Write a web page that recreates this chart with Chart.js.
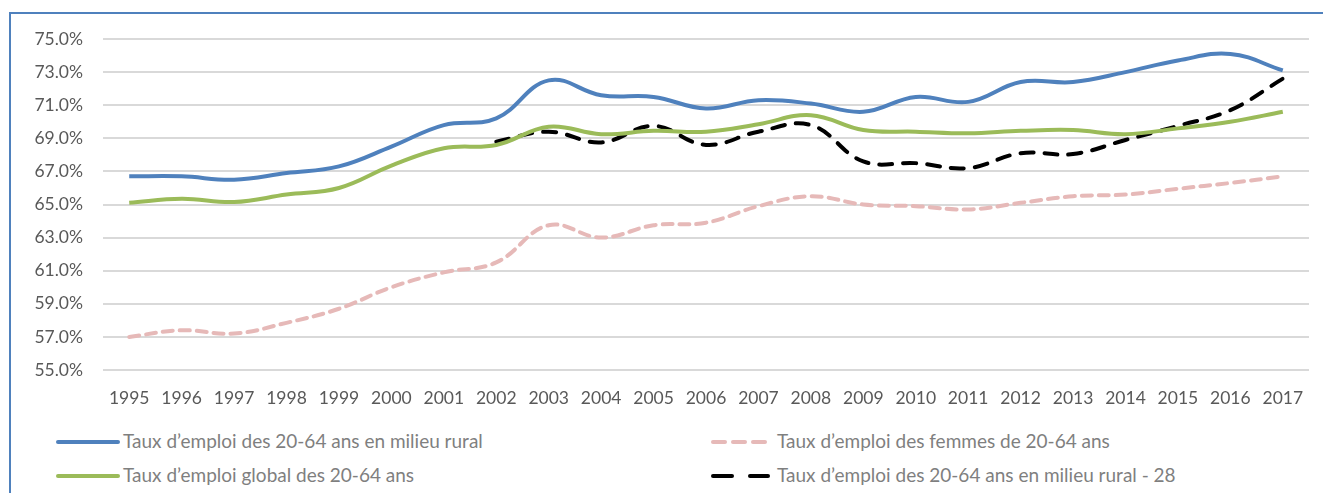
<!DOCTYPE html>
<html>
<head>
<meta charset="utf-8">
<script src="https://cdn.jsdelivr.net/npm/chart.js@4/dist/chart.umd.min.js"></script>
<style>
  html, body { margin: 0; padding: 0; background: #fff; }
  body { width: 1323px; height: 493px; position: relative; overflow: hidden; font-family: Lato, sans-serif; }
  .frame { position: absolute; left: 9px; top: 12px; width: 1400px; height: 600px; border-left: 2px solid #4f81bd; border-top: 2px solid #4f81bd; }
  .plot { position: absolute; left: 0; top: 0; width: 1323px; height: 420px; }
  .leg { position: absolute; font-size: 19px; color: #7f7f7f; white-space: nowrap; line-height: 20px; }
  .leg .sw { position: absolute; top: 9px; height: 4px; border-radius: 2px; }
</style>
</head>
<body>
<div class="frame"></div>
<div class="plot"><canvas id="employmentChart"></canvas></div>

<div class="leg" style="left:123px; top:431px;"><span class="sw" style="left:-67px; width:64px; background:#4f81bd;"></span>Taux d’emploi des 20-64 ans en milieu rural</div>
<div class="leg" style="left:123px; top:465px;"><span class="sw" style="left:-67px; width:64px; background:#9bbb59;"></span>Taux d’emploi global des 20-64 ans</div>
<div class="leg" style="left:777px; top:431px;">
  <span class="sw" style="left:-66px; width:16px; background:#e6b9b8;"></span>
  <span class="sw" style="left:-46px; width:16px; background:#e6b9b8;"></span>
  <span class="sw" style="left:-26px; width:16px; background:#e6b9b8;"></span>Taux d’emploi des femmes de 20-64 ans</div>
<div class="leg" style="left:777px; top:465px;">
  <span class="sw" style="left:-66px; width:23px; background:#000;"></span>
  <span class="sw" style="left:-29px; width:22px; background:#000;"></span>Taux d’emploi des 20-64 ans en milieu rural - 28</div>

<script>
// Taux d'emploi 1995-2017 (en %)
const years = ['1995', '1996', '1997', '1998', '1999', '2000', '2001', '2002', '2003', '2004', '2005', '2006',
  '2007', '2008', '2009', '2010', '2011', '2012', '2013', '2014', '2015', '2016', '2017'];

const ruralRate = [66.7, 66.7, 66.5, 66.9, 67.3, 68.5, 69.8, 70.2, 72.5, 71.6, 71.5, 70.8,
  71.3, 71.1, 70.6, 71.5, 71.2, 72.4, 72.4, 73.0, 73.7, 74.1, 73.1];

const globalRate = [65.1, 65.35, 65.15, 65.6, 66.0, 67.35, 68.4, 68.6, 69.7, 69.25, 69.45, 69.4,
  69.85, 70.4, 69.5, 69.4, 69.3, 69.45, 69.5, 69.25, 69.6, 70.0, 70.6];

const womenRate = [57.0, 57.4, 57.2, 57.85, 58.7, 60.0, 60.9, 61.5, 63.75, 63.0, 63.75, 63.9,
  64.9, 65.5, 65.0, 64.9, 64.7, 65.1, 65.5, 65.6, 65.95, 66.3, 66.7];

// série UE-28, démarre en 2002
const rural28Rate = [null, null, null, null, null, null, null, 68.8, 69.4, 68.75, 69.75, 68.6,
  69.4, 69.8, 67.6, 67.5, 67.2, 68.1, 68.05, 68.9, 69.75, 70.7, 72.6];

const yTicks = [55, 57, 59, 61, 63, 65, 67, 69, 71, 73, 75];

const TICK_FONT = { family: 'Lato', size: 17.5 };
const TICK_COLOR = '#595959';

const ctx = document.getElementById('employmentChart').getContext('2d');

new Chart(ctx, {
  type: 'line',
  data: {
    labels: years,
    datasets: [
      {
        label: 'Taux d’emploi des femmes de 20-64 ans',
        data: womenRate,
        borderColor: '#e6b9b8',
        borderWidth: 4,
        borderDash: [10, 7],
        borderCapStyle: 'round',
        tension: 0.4
      },
      {
        label: 'Taux d’emploi global des 20-64 ans',
        data: globalRate,
        borderColor: '#9bbb59',
        borderWidth: 4,
        tension: 0.4
      },
      {
        label: 'Taux d’emploi des 20-64 ans en milieu rural - 28',
        data: rural28Rate,
        borderColor: '#000000',
        borderWidth: 4,
        borderDash: [13, 11],
        borderCapStyle: 'round',
        tension: 0.4
      },
      {
        label: 'Taux d’emploi des 20-64 ans en milieu rural',
        data: ruralRate,
        borderColor: '#4f81bd',
        borderWidth: 4,
        tension: 0.4
      }
    ]
  },
  options: {
    responsive: true,
    maintainAspectRatio: false,
    animation: false,
    layout: { padding: { top: 39, right: 14, left: 0, bottom: 0 } },
    elements: { point: { radius: 0 } },
    plugins: {
      legend: { display: false },
      tooltip: { enabled: false }
    },
    scales: {
      x: {
        offset: true,
        afterFit: (scale) => { scale.height = 50; },
        grid: { display: false, drawTicks: false },
        border: { display: false },
        ticks: { color: TICK_COLOR, font: TICK_FONT, padding: 18, maxRotation: 0, autoSkip: false }
      },
      y: {
        min: 55,
        max: 75,
        afterFit: (scale) => { scale.width = 103; },
        afterBuildTicks: (scale) => { scale.ticks = yTicks.map(v => ({ value: v })); },
        grid: { color: '#d9d9d9', lineWidth: 2, drawTicks: false },
        border: { display: false },
        ticks: {
          color: TICK_COLOR,
          font: TICK_FONT,
          padding: 20,
          callback: (v) => v.toFixed(1) + '%'
        }
      }
    }
  }
});
</script>
</body>
</html>
